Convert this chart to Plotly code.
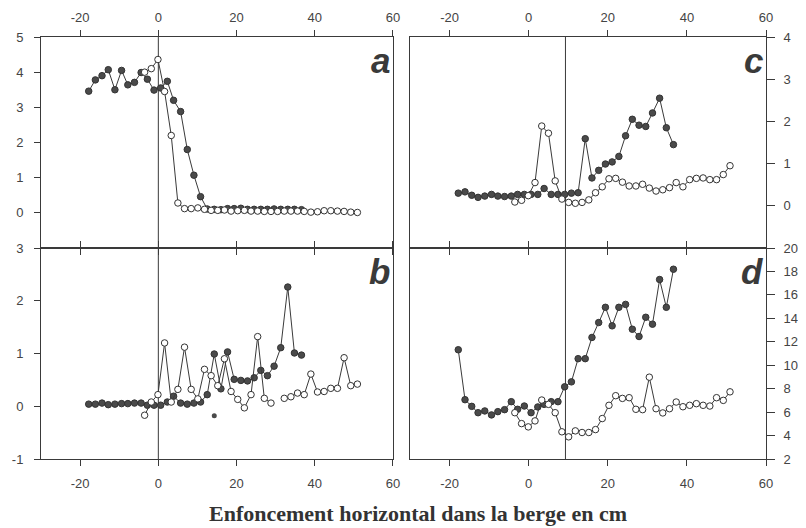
import plotly.graph_objects as go

# ---------------- data ----------------
x_filled = [-17.8, -16.1, -14.4, -12.8, -11.1, -9.4, -7.8, -6.1, -4.4, -2.8, -1.1, 0.6,
            2.3, 3.9, 5.7, 7.4, 9.1, 10.8, 12.5, 14.3, 16.0, 17.7, 19.4, 21.1, 22.8,
            24.5, 26.2, 27.9, 29.6, 31.3, 33.1, 34.8, 36.6]
x_open = [-3.5, -1.8, -0.1, 1.6, 3.3, 5.0, 6.7, 8.4, 10.1, 11.8, 13.5, 15.2, 16.9,
          18.6, 20.3, 22.0, 23.7, 25.4, 27.1, 28.8, 30.5, 32.2, 33.9, 35.6, 37.3,
          39.0, 40.7, 42.4, 44.1, 45.8, 47.5, 49.2, 50.9]

a_filled = [3.46, 3.78, 3.90, 4.07, 3.50, 4.05, 3.64, 3.71, 3.99, 3.80, 3.49, 3.55,
            3.74, 3.20, 2.88, 1.80, 1.07, 0.46, 0.11, 0.10, 0.09, 0.12, 0.12, 0.13,
            0.10, 0.10, 0.10, 0.10, 0.11, 0.10, 0.10, 0.10, 0.09]
a_open = [4.00, 4.10, 4.36, 3.45, 2.20, 0.28, 0.12, 0.12, 0.14, 0.10, 0.07, 0.07,
          0.08, 0.05, 0.06, 0.07, 0.05, 0.05, 0.04, 0.04, 0.04, 0.05, 0.05, 0.05,
          0.04, 0.02, 0.03, 0.06, 0.06, 0.05, 0.04, 0.02, 0.01]

b_filled = [0.04, 0.04, 0.06, 0.03, 0.04, 0.05, 0.05, 0.06, 0.06, 0.02, 0.02, 0.02,
            0.08, 0.19, 0.06, 0.04, 0.06, 0.08, 0.22, 0.99, 0.33, 1.03, 0.51, 0.49,
            0.48, 0.54, 0.68, 0.58, 0.76, 1.11, 2.26, 1.01, 0.97]
b_open = [-0.17, 0.08, 0.22, 1.20, 0.08, 0.32, 1.12, 0.32, 0.14, 0.70, 0.58, 0.39,
          0.90, 0.28, 0.13, -0.03, 0.22, 1.32, 0.15, 0.06, None, 0.15, 0.18, 0.25,
          0.22, 0.61, 0.27, 0.28, 0.34, 0.34, 0.92, 0.39, 0.42]
b_stray_x = [14.3]
b_stray_y = [-0.18]

c_filled = [0.30, 0.33, 0.25, 0.20, 0.23, 0.27, 0.23, 0.22, 0.23, 0.27, 0.27, 0.27,
            0.27, 0.41, 0.27, 0.27, 0.27, 0.30, 0.31, 1.59, 0.66, 0.84, 0.99, 1.04,
            1.17, 1.66, 2.05, 1.91, 1.88, 2.20, 2.55, 1.85, 1.45]
c_open = [0.09, 0.13, 0.24, 0.55, 1.89, 1.72, 0.59, 0.16, 0.08, 0.06, 0.08, 0.14,
          0.31, 0.45, 0.64, 0.65, 0.56, 0.47, 0.47, 0.51, 0.42, 0.35, 0.38, 0.43,
          0.55, 0.45, 0.62, 0.65, 0.66, 0.62, 0.62, 0.74, 0.95]

d_filled = [11.32, 7.06, 6.49, 5.95, 6.10, 5.76, 6.04, 6.21, 6.89, 6.24, 6.52, 5.95,
            6.44, 6.66, 6.89, 6.89, 8.16, 8.58, 10.56, 10.56, 12.37, 13.64, 14.94,
            13.36, 14.94, 15.19, 13.07, 12.45, 14.09, 13.50, 17.31, 14.94, 18.19]
d_open = [5.95, 5.02, 4.74, 5.25, 7.03, 6.66, 5.95, 4.32, 3.89, 4.40, 4.26, 4.26,
          4.51, 5.45, 6.58, 7.40, 7.17, 7.23, 6.24, 6.21, 8.98, 6.29, 5.93, 6.29,
          6.86, 6.46, 6.58, 6.72, 6.58, 6.52, 7.23, 7.00, 7.73]

x_ticks = [-20, 0, 20, 40, 60]
x_tick_labels = ["-20", "0", "20", "40", "60"]
a_ticks = [0, 1, 2, 3, 4, 5]
b_ticks = [-1, 0, 1, 2, 3]
b_tick_labels = ["-1", "0", "1", "2", "3"]
c_ticks = [0, 1, 2, 3, 4]
d_ticks = [2, 4, 6, 8, 10, 12, 14, 16, 18, 20]
panel_letters = ["a", "b", "c", "d"]
vline_left = 0
vline_right = 9.3
x_title = "Enfoncement horizontal dans la berge en cm"

# ---------------- style ----------------
INK = "#3a3a3a"
FILLED = dict(symbol="circle", size=6.5, color="#4a4a4a", line=dict(color="#333", width=1))
OPEN = dict(symbol="circle", size=6.5, color="white", line=dict(color="#333", width=1))
LINE = dict(color=INK, width=1)

fig = go.Figure()

panels = [
    ("x", "y", a_filled, a_open),
    ("x2", "y2", b_filled, b_open),
    ("x3", "y3", c_filled, c_open),
    ("x4", "y4", d_filled, d_open),
]
for xa, ya, yf, yo in panels:
    fig.add_trace(go.Scatter(x=x_filled, y=yf, mode="lines+markers", marker=FILLED,
                             line=LINE, xaxis=xa, yaxis=ya, showlegend=False,
                             cliponaxis=False))
    fig.add_trace(go.Scatter(x=x_open, y=yo, mode="lines+markers", marker=OPEN,
                             line=LINE, xaxis=xa, yaxis=ya, showlegend=False,
                             connectgaps=False, cliponaxis=False))

fig.add_trace(go.Scatter(x=b_stray_x, y=b_stray_y, mode="markers",
                         marker=dict(symbol="circle", size=5, color="#4a4a4a"),
                         xaxis="x2", yaxis="y2", showlegend=False))

tickfont = dict(family="Liberation Sans, Arial, sans-serif", size=13, color="#444")
L_DOM = [0.0, 0.4855]
R_DOM = [0.509, 1.0]

def xaxis(domain, anchor, side):
    return dict(domain=domain, anchor=anchor, side=side, range=[-30, 60],
                tickvals=x_ticks, ticktext=x_tick_labels, ticks="outside",
                ticklen=6, tickcolor=INK, tickwidth=1, showline=True, linecolor=INK,
                linewidth=1, mirror="ticks", showgrid=False, zeroline=False,
                tickfont=tickfont, automargin=False,
                ticklabelstandoff=3 if side == "top" else 6)

def yaxis(domain, anchor, side, rng, vals, texts=None):
    d = dict(domain=domain, anchor=anchor, side=side, range=rng, tickvals=vals,
             ticks="outside", ticklen=6 if side == "left" else 8, tickcolor=INK,
             tickwidth=1, showline=True, linecolor=INK, linewidth=1, mirror=True,
             showgrid=False, zeroline=False, tickfont=tickfont, automargin=False,
             ticklabelstandoff=8 if side == "left" else 6)
    if texts is not None:
        d["ticktext"] = texts
    return d

# the page body adds an 8px offset, so the figure is sized to fit inside it
fig.update_layout(
    width=798, height=520,
    margin=dict(l=33, r=40, t=29, b=69, autoexpand=False),
    paper_bgcolor="white", plot_bgcolor="white",
    xaxis=xaxis(L_DOM, "y", "top"),
    yaxis=yaxis([0.5, 1.0], "x", "left", [-1, 5], a_ticks),
    xaxis2=xaxis(L_DOM, "y2", "bottom"),
    yaxis2=yaxis([0.0, 0.5], "x2", "left", [-1, 3], b_ticks, b_tick_labels),
    xaxis3=xaxis(R_DOM, "y3", "top"),
    yaxis3=yaxis([0.5, 1.0], "x3", "right", [-1, 4], c_ticks),
    xaxis4=xaxis(R_DOM, "y4", "bottom"),
    yaxis4=yaxis([0.0, 0.5], "x4", "right", [2, 20], d_ticks),
)

# vertical reference lines
for xr, yr, xv in [("x", "y", vline_left), ("x2", "y2", vline_left),
                   ("x3", "y3", vline_right), ("x4", "y4", vline_right)]:
    fig.add_shape(type="line", xref=xr, yref=yr + " domain", x0=xv, x1=xv, y0=0, y1=1,
                  line=dict(color=INK, width=1), layer="below")

# panel letters
letter_font = dict(family="Liberation Sans, Arial, sans-serif", size=35, color="#3a3a3a")
for letter, xr, yr in zip(panel_letters, ["x", "x2", "x3", "x4"], ["y", "y2", "y3", "y4"]):
    fig.add_annotation(text="<b><i>" + letter + "</i></b>", xref=xr + " domain",
                       yref=yr + " domain", x=0.998, y=0.99, xanchor="right",
                       yanchor="top", showarrow=False, font=letter_font)

fig.add_annotation(text="<b>" + x_title + "</b>", xref="paper", yref="paper",
                   x=0.52, y=-0.13, xanchor="center", yanchor="middle", showarrow=False,
                   font=dict(family="Liberation Serif, Times New Roman, serif", size=22,
                             color="#333"))

fig.write_html("out.html")
